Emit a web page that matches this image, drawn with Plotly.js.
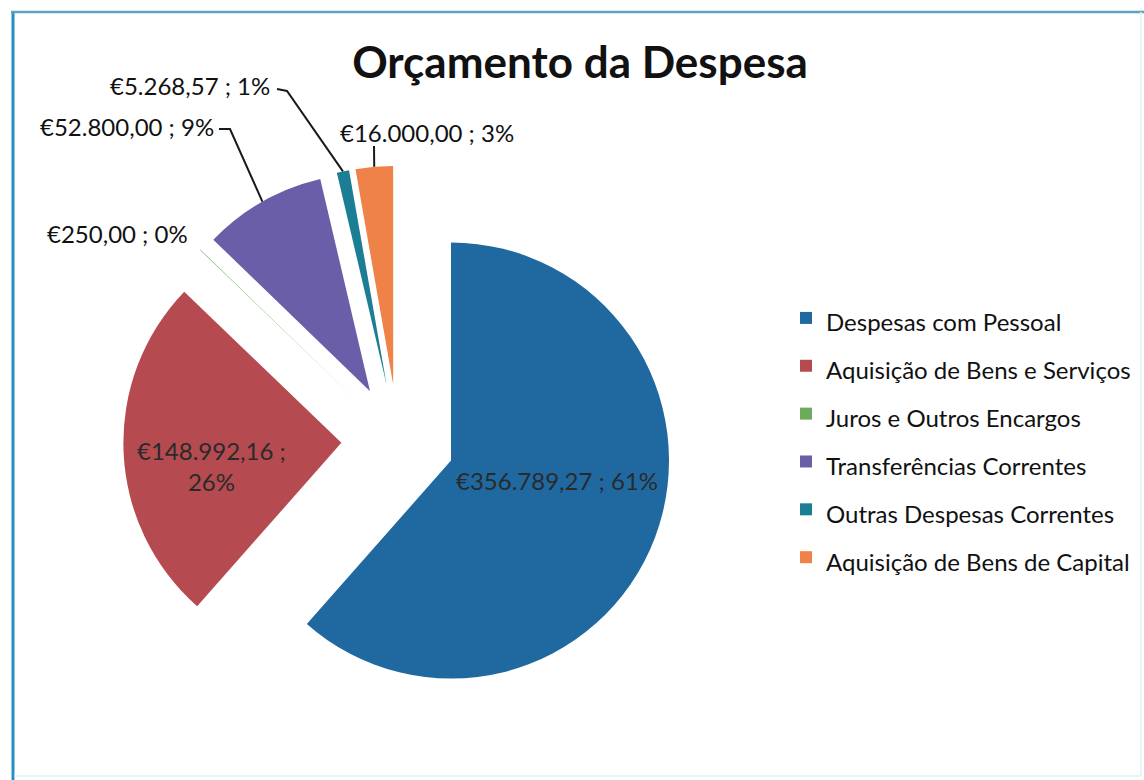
<!DOCTYPE html>
<html>
<head>
<meta charset="utf-8">
<script src="https://cdn.plot.ly/plotly-3.0.1.min.js"></script>
<style>
  html, body { margin: 0; padding: 0; background: #fff; }
</style>
</head>
<body>
<div id="chart" style="width:1144px;height:780px"></div>
<script>
// data
var categories = ['Despesas com Pessoal', 'Aquisição de Bens e Serviços', 'Juros e Outros Encargos',
    'Transferências Correntes', 'Outras Despesas Correntes', 'Aquisição de Bens de Capital'];
var amounts = [356789.27, 148992.16, 250.00, 52800.00, 5268.57, 16000.00];
var percents = [61, 26, 0, 9, 1, 3];
var colors = ['#1F69A0', '#B54B50', '#6DAA5C', '#6A5EA8', '#1B7E95', '#EF8249'];

var W = 1144, H = 780;
// pie geometry in pixels (centre, radius, explosion)
var cx = 398, cy = 440.5, R = 218, PULL = 0.26;
var outer = R * (1 + PULL);
var FONT = 'Lato, "Open Sans", sans-serif';

function euro(v) {
    var parts = v.toFixed(2).split('.');
    return '€' + parts[0].replace(/\B(?=(\d{3})+(?!\d))/g, '.') + ',' + parts[1];
}
function px(x) { return x / W; }
function py(y) { return 1 - y / H; }

var total = amounts.reduce(function (a, b) { return a + b; }, 0);

// where the label text sits, and the elbow of the leader line if any
var labelPos = [[557, 480], [211, 466], [117, 233], [127, 127], [190, 85], [427, 132]];
var leaders = { 3: [[219, 129], [230, 129]], 4: [[277, 89], [287, 91]], 5: [[374, 146]] };

var annotations = [];
var shapes = [];
var cum = 0;
amounts.forEach(function (v, i) {
    var share = v / total;
    var mid = (cum + share / 2) * 2 * Math.PI;
    cum += share;
    var txt = euro(v) + ' ; ' + percents[i] + '%';
    if (i === 1) txt = euro(v) + ' ;<br>' + percents[i] + '%';
    var inside = i < 2;
    annotations.push({
        xref: 'paper', yref: 'paper',
        x: px(labelPos[i][0]), y: py(labelPos[i][1]),
        text: txt, showarrow: false,
        xanchor: 'center', yanchor: 'middle',
        font: { family: FONT, size: 24, color: inside ? '#2a2a2a' : '#111111' }
    });
    if (leaders[i]) {
        var tipX = cx + outer * Math.sin(mid);
        var tipY = cy - outer * Math.cos(mid);
        var pts = leaders[i].concat([[tipX, tipY]]);
        var d = pts.map(function (p, k) { return (k ? 'L' : 'M') + px(p[0]) + ',' + py(p[1]); }).join(' ');
        shapes.push({ type: 'path', xref: 'paper', yref: 'paper', path: d,
            line: { color: '#1a1a1a', width: 2 } });
    }
});

// frame of the chart area
shapes.push({ type: 'line', xref: 'paper', yref: 'paper', x0: px(13), x1: px(13), y0: py(11), y1: py(780),
    line: { color: '#2590C0', width: 3 } });
shapes.push({ type: 'line', xref: 'paper', yref: 'paper', x0: px(11), x1: px(1144), y0: py(12), y1: py(12),
    line: { color: '#5AA5C0', width: 2.5 } });
shapes.push({ type: 'line', xref: 'paper', yref: 'paper', x0: px(1141), x1: px(1141), y0: py(12), y1: py(776),
    line: { color: '#E3EFF3', width: 1.5 } });
shapes.push({ type: 'line', xref: 'paper', yref: 'paper', x0: px(14), x1: px(1141), y0: py(776), y1: py(776),
    line: { color: '#DDF0F5', width: 1.5 } });

var legendLabels = categories.map(function (c) {
    return '<span style="font-size:24px">' + c + '</span>';
});

var data = [{
    type: 'pie',
    labels: legendLabels,
    values: amounts,
    sort: false,
    direction: 'clockwise',
    rotation: 0,
    pull: PULL,
    marker: { colors: colors, line: { width: 0 } },
    textinfo: 'none',
    hoverinfo: 'value+percent',
    domain: {
        x: [px(cx - outer), px(cx + outer)],
        y: [py(cy + outer), py(cy - outer)]
    }
}];

var layout = {
    width: W,
    height: H,
    margin: { t: 0, l: 0, r: 0, b: 0 },
    paper_bgcolor: '#ffffff',
    title: {
        text: '<b>Orçamento da Despesa</b>',
        x: px(580), y: py(63), xanchor: 'center', yanchor: 'middle',
        font: { family: FONT, size: 44, color: '#111111' }
    },
    showlegend: true,
    legend: {
        x: px(786), y: py(289), xanchor: 'left', yanchor: 'top',
        font: { family: FONT, size: 34.5, color: '#111111' },
        bgcolor: 'rgba(0,0,0,0)',
        itemclick: false, itemdoubleclick: false
    },
    annotations: annotations,
    shapes: shapes
};

Plotly.newPlot('chart', data, layout, { displayModeBar: false, staticPlot: true });
</script>
</body>
</html>
